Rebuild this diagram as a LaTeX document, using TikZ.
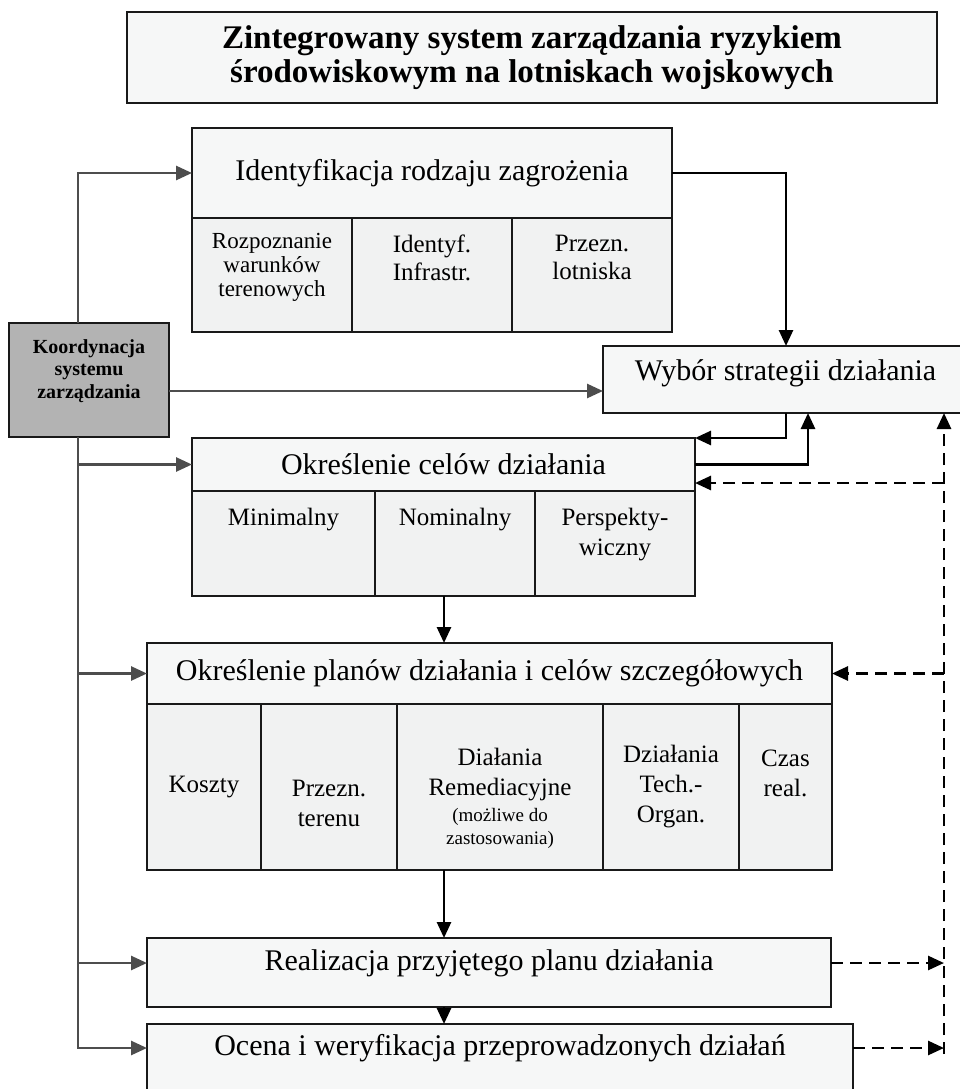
\documentclass[tikz,border=0pt]{standalone}
\usepackage{fontspec}
\setmainfont{Liberation Serif}
\usetikzlibrary{arrows.meta,positioning,calc}

\definecolor{boxfill}{HTML}{F6F7F7}
\definecolor{cellfill}{HTML}{F1F2F2}
\definecolor{koordfill}{HTML}{B3B3B3}
\definecolor{feedgray}{HTML}{4D4D4D}

\tikzset{
  box/.style={draw=black!90, line width=2pt, fill=boxfill, inner sep=0pt, outer sep=0pt},
  cell/.style={box, fill=cellfill},
  main/.style={font=\fontsize{30}{33}\selectfont, inner sep=0pt, align=center},
  celltxt/.style={font=\fontsize{25}{30}\selectfont, inner sep=0pt, align=center},
  smalltxt/.style={font=\fontsize{23}{24}\selectfont, inner sep=0pt, align=center},
  flow/.style={line width=2.7pt, -{Triangle[length=16pt,width=14pt]}},
  feed/.style={flow, draw=feedgray},
  fb/.style={flow, dash pattern=on 12pt off 7pt},
}

\begin{document}
\begin{tikzpicture}[x=1pt, y=-1pt]
\useasboundingbox (0,0) rectangle (960,1089);

\node[box, minimum width=810pt, minimum height=91pt, align=center,
  font=\bfseries\fontsize{33}{34}\selectfont] (title) at (532,57.5)
  {Zintegrowany system zarządzania ryzykiem\\środowiskowym na lotniskach wojskowych};

\node[box, main, minimum width=480pt, minimum height=90pt] (idh) at (432,173) {Identyfikacja rodzaju zagrożenia};
\node[cell, minimum width=160pt, minimum height=114pt, anchor=north west] (idc1) at (idh.south west) {};
\node[cell, minimum width=160pt, minimum height=114pt, anchor=north west] (idc2) at (idc1.north east) {};
\node[cell, minimum width=160pt, minimum height=114pt, anchor=north west] (idc3) at (idc2.north east) {};
\node[smalltxt, below=15pt of idc1.north] (idt1) {Rozpoznanie\\warunków\\terenowych};
\node[celltxt, font=\fontsize{25}{28}\selectfont, below=17pt of idc2.north] (idt2) {Identyf.\\Infrastr.};
\node[celltxt, font=\fontsize{25}{28}\selectfont, below=17pt of idc3.north] (idt3) {Przezn.\\lotniska};

\node[box, fill=koordfill, minimum width=160pt, minimum height=114pt] (koord) at (89,380) {};
\node[inner sep=0pt, align=center, font=\bfseries\fontsize{20}{22.5}\selectfont] (koordT) at (89,371) {Koordynacja\\systemu\\zarządzania};

\node[box, minimum width=365pt, minimum height=67pt] (wybor) at (785.5,379.5) {};
\node[main] (wyborT) at ($(wybor)+(0,-6.5)$) {Wybór strategii działania};

\node[box, main, minimum width=503pt, minimum height=53pt] (celh) at (443.5,464.5) {Określenie celów działania};
\node[cell, minimum width=183pt, minimum height=105pt, anchor=north west] (celc1) at (celh.south west) {};
\node[cell, minimum width=160pt, minimum height=105pt, anchor=north west] (celc2) at (celc1.north east) {};
\node[cell, minimum width=160pt, minimum height=105pt, anchor=north west] (celc3) at (celc2.north east) {};
\node[celltxt, below=17pt of celc1.north] (celt1) {Minimalny};
\node[celltxt, below=17pt of celc2.north] (celt2) {Nominalny};
\node[celltxt, below=17pt of celc3.north] (celt3) {Perspekty-\\wiczny};

\node[box, main, minimum width=685pt, minimum height=61pt] (plh) at (489.5,673.5) {Określenie planów działania i celów szczegółowych};
\node[cell, minimum width=114pt, minimum height=166pt, anchor=north west] (plc1) at (plh.south west) {};
\node[cell, minimum width=136pt, minimum height=166pt, anchor=north west] (plc2) at (plc1.north east) {};
\node[cell, minimum width=206pt, minimum height=166pt, anchor=north west] (plc3) at (plc2.north east) {};
\node[cell, minimum width=136pt, minimum height=166pt, anchor=north west] (plc4) at (plc3.north east) {};
\node[cell, minimum width=93pt, minimum height=166pt, anchor=north west] (plc5) at (plc4.north east) {};
\node[celltxt] (plt1) at (plc1) {Koszty};
\node[celltxt] (plt2) at ($(plc2)+(0,16)$) {Przezn.\\terenu};
\node[celltxt] (plt3) at ($(plc3)+(0,11)$) {Diałania\\Remediacyjne\\[-4pt]\fontsize{19}{30}\selectfont(możliwe do\\[-7pt]\fontsize{19}{30}\selectfont zastosowania)};
\node[celltxt] (plt4) at (plc4) {Działania\\Tech.-\\Organ.};
\node[celltxt] (plt5) at ($(plc5)+(0,-14)$) {Czas\\real.};

\node[box, minimum width=684pt, minimum height=69pt, anchor=north west] (real) at (147,938) {};
\node[main] (realT) at ($(real)+(0,-9.5)$) {Realizacja przyjętego planu działania};

\node[box, minimum width=706pt, minimum height=70pt, anchor=north west] (ocena) at (147,1024) {};
\node[main] (ocenaT) at ($(ocena.north)+(0,24)$) {Ocena i weryfikacja przeprowadzonych działań};

\coordinate (bus) at (78,0);
\coordinate (down) at (786,0);
\coordinate (up) at (808,0);
\coordinate (mid) at (444,0);
\coordinate (back) at (944,0);

\draw[feed] (koord.north -| bus) |- (idh.west);
\draw[feed] (koord.south -| bus) |- (ocenaT -| ocena.west);
\draw[feed] (bus |- celh.west) -- (celh.west);
\draw[feed] (bus |- plh.west) -- (plh.west);
\draw[feed] (bus |- realT) -- (realT -| real.west);
\draw[feed] ([yshift=-11pt]koord.east) coordinate (kw) -- (kw -| wybor.west);

\draw[flow] (idh.east) -| (down |- wybor.north);
\draw[flow] (down |- wybor.south) |- (celh.north east);
\draw[flow] (celh.east) -| (up |- wybor.south);
\draw[flow] (mid |- celc2.south) -- (mid |- plh.north);
\draw[flow] (mid |- plc3.south) -- (mid |- real.north);
\draw[flow] (mid |- real.south) -- (mid |- ocena.north);

\draw[fb] ($(back |- ocenaT)+(0,6)$) -- (back |- wybor.south);
\draw[fb] (realT -| real.east) -- (realT -| back);
\draw[fb] (ocenaT -| ocena.east) -- (ocenaT -| back);
\draw[fb] (back |- plh.east) -- (plh.east);
\draw[fb] ($(back |- celh.south)+(0,-8)$) -- ($(celh.south east)+(0,-8)$);
\end{tikzpicture}
\end{document}
